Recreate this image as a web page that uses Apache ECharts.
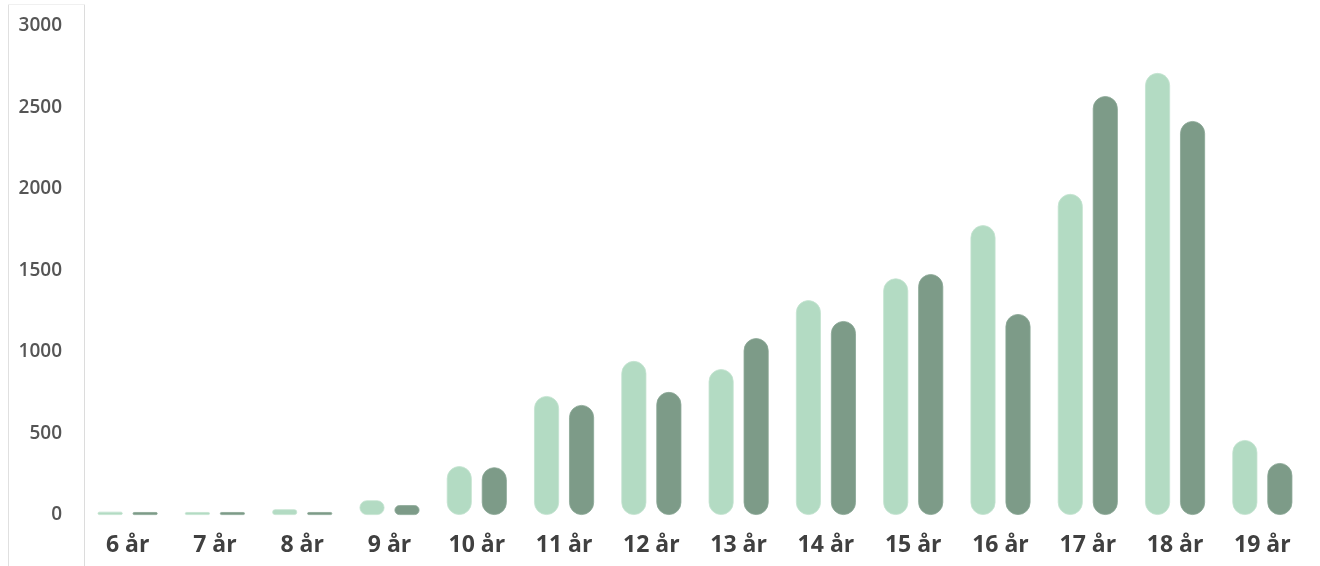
<!DOCTYPE html>
<html>
<head>
<meta charset="utf-8">
<script src="https://cdn.jsdelivr.net/npm/echarts@6/dist/echarts.min.js"></script>
<style>
html,body{margin:0;padding:0;background:#fff;}
#c{width:1320px;height:566px;}
</style>
</head>
<body>
<div id="c"></div>
<script>
var categories = ["6 år","7 år","8 år","9 år","10 år","11 år","12 år","13 år","14 år","15 år","16 år","17 år","18 år","19 år"];
var seriesLight = [20, 18, 35, 90, 300, 730, 945, 895, 1318, 1452, 1778, 1970, 2712, 460];
var seriesDark = [18, 18, 18, 60, 293, 675, 755, 1085, 1190, 1478, 1233, 2570, 2417, 319];
var yTicks = [0, 500, 1000, 1500, 2000, 2500, 3000];

var chart = echarts.init(document.getElementById('c'));
chart.setOption({
  animation: false,
  grid: {left: 84, right: 14, top: 26, bottom: 51},
  graphic: [
    {type:'line', shape:{x1:8.5,y1:4,x2:8.5,y2:566}, style:{stroke:'#e0e0e0', lineWidth:1}},
    {type:'line', shape:{x1:84.5,y1:4,x2:84.5,y2:566}, style:{stroke:'#dcdcdc', lineWidth:1}},
    {type:'line', shape:{x1:8,y1:4.5,x2:85,y2:4.5}, style:{stroke:'#f0f0f0', lineWidth:1}}
  ],
  xAxis: {
    type: 'category',
    data: categories,
    axisLine: {show: false},
    axisTick: {show: false},
    axisLabel: {
      margin: 19,
      fontFamily: 'Open Sans',
      fontWeight: 'bold',
      fontSize: 23,
      color: '#404040'
    }
  },
  yAxis: {
    type: 'value',
    min: 0,
    max: 3000,
    interval: 500,
    axisLine: {show: false},
    axisTick: {show: false},
    splitLine: {show: false},
    axisLabel: {
      margin: 22,
      fontFamily: 'Open Sans',
      fontWeight: 600,
      fontSize: 19,
      color: '#555',
      formatter: function(v){ return yTicks.indexOf(v) >= 0 ? String(v) : ''; }
    }
  },
  series: [
    {
      type: 'bar',
      data: seriesLight,
      barWidth: 25,
      barGap: '40%',
      itemStyle: {color: '#b3dbc3', borderRadius: 12.5, borderColor: '#c4e3d0', borderWidth: 0.8}
    },
    {
      type: 'bar',
      data: seriesDark,
      barWidth: 25,
      itemStyle: {color: '#7d9b88', borderRadius: 12.5, borderColor: '#8aa795', borderWidth: 0.8}
    }
  ]
});
</script>
</body>
</html>
